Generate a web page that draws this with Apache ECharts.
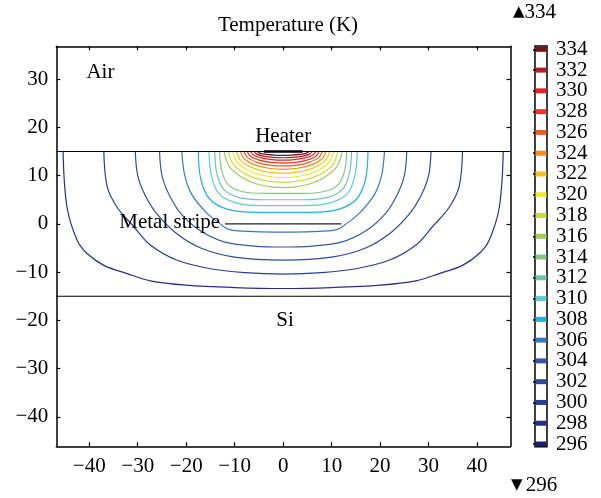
<!DOCTYPE html>
<html>
<head>
<meta charset="utf-8">
<script src="https://cdn.jsdelivr.net/npm/echarts@6/dist/echarts.min.js"></script>
<style>
html,body{margin:0;padding:0;background:#fff;}
#chart{width:601px;height:498px;}
</style>
</head>
<body>
<div id="chart"></div>
<script>
// ---- data ----
const xTicks = [-40, -30, -20, -10, 0, 10, 20, 30, 40];
const yTicks = [-40, -30, -20, -10, 0, 10, 20, 30];
const colorbarLevels = [296,298,300,302,304,306,308,310,312,314,316,318,320,322,324,326,328,330,332,334];
const contourLevels = [298,300,302,304,306,308,310,312,314,316,318,320,322,324,326,328,330,332,334];
const dataMax = 334;
const dataMin = 296;

const c334 = [[-5.3,15],[-4.8,14.66],[-3.41,14.39],[-1.81,14.25],[0,14.2],[1.81,14.25],[3.41,14.39],[4.8,14.66],[5.3,15]];
const c332 = [[-6,15],[-5.44,14.45],[-3.86,14.0],[-2.05,13.78],[0,13.7],[2.05,13.78],[3.86,14.0],[5.44,14.45],[6,15]];
const c330 = [[-6.7,15],[-6.07,14.24],[-4.31,13.62],[-2.29,13.31],[0,13.2],[2.29,13.31],[4.31,13.62],[6.07,14.24],[6.7,15]];
const c328 = [[-7.4,15],[-6.7,13.98],[-4.76,13.16],[-2.53,12.74],[0,12.6],[2.53,12.74],[4.76,13.16],[6.7,13.98],[7.4,15]];
const c326 = [[-8.1,15],[-7.34,13.73],[-5.21,12.7],[-2.77,12.18],[0,12.0],[2.77,12.18],[5.21,12.7],[7.34,13.73],[8.1,15]];
const c324 = [[-8.8,15],[-7.97,13.43],[-5.66,12.17],[-3.01,11.52],[0,11.3],[3.01,11.52],[5.66,12.17],[7.97,13.43],[8.8,15]];
const c322 = [[-9.6,15],[-8.7,13.1],[-6.17,11.55],[-3.28,10.77],[0,10.5],[3.28,10.77],[6.17,11.55],[8.7,13.1],[9.6,15]];
const c320 = [[-10.4,15],[-9.42,12.72],[-6.69,10.86],[-3.56,9.92],[0,9.6],[3.56,9.92],[6.69,10.86],[9.42,12.72],[10.4,15]];
const c318 = [[-11.3,15],[-10.24,12.29],[-7.27,10.1],[-3.86,8.98],[0,8.6],[3.86,8.98],[7.27,10.1],[10.24,12.29],[11.3,15]];
const c316 = [[-12.2,15],[-11.05,11.83],[-7.84,9.26],[-4.17,7.95],[0,7.5],[4.17,7.95],[7.84,9.26],[11.05,11.83],[12.2,15]];
const c314 = [[-13.1,15],[-12.7,11.1],[-11.4,8.2],[-8.5,6.7],[-3.9,6.3],[0,6.3],[3.9,6.3],[8.5,6.7],[11.4,8.2],[12.7,11.1],[13.1,15]];
const c312 = [[-14.1,15],[-13.7,10.5],[-12.3,7.2],[-9.2,5.5],[-4.2,5.0],[0,5.0],[4.2,5.0],[9.2,5.5],[12.3,7.2],[13.7,10.5],[14.1,15]];
const c310 = [[-15.3,15],[-14.8,10],[-13.3,6.3],[-9.9,4.4],[-4.6,3.8],[0,3.8],[4.6,3.8],[9.9,4.4],[13.3,6.3],[14.8,10],[15.3,15]];
const c308 = [[-17.5,15],[-17,9.3],[-15.2,5.2],[-11.4,3.0],[-5.3,2.4],[0,2.4],[5.3,2.4],[11.4,3.0],[15.2,5.2],[17,9.3],[17.5,15]];
const c306 = [[-20.9,15],[-20.3,10],[-18.8,6],[-16,2.5],[-13,0],[-11,-1.2],[-6,-1.6],[0,-1.7],[6,-1.6],[11,-1.2],[13,0],[16,2.5],[18.8,6],[20.3,10],[20.9,15]];
const c304 = [[-25.5,15],[-25,10],[-23.5,6],[-21,2],[-17,-1.5],[-12,-3.8],[-6,-4.6],[0,-4.8],[6,-4.6],[12,-3.8],[17,-1.5],[21,2],[23.5,6],[25,10],[25.5,15]];
const c302 = [[-30.5,15],[-30,10],[-28.5,6],[-26,2],[-22,-2],[-17,-5],[-10,-6.9],[0,-7.5],[10,-6.9],[17,-5],[22,-2],[26,2],[28.5,6],[30,10],[30.5,15]];
const c300 = [[-37,15],[-36.3,7.7],[-34.3,3.5],[-30.8,-0.6],[-27.4,-4.4],[-22,-7.5],[-15,-9.3],[-8,-10.1],[0,-10.4],[8,-10.1],[15,-9.3],[22,-7.5],[27.4,-4.4],[30.8,-0.6],[34.3,3.5],[36.3,7.7],[37,15]];
const c298 = [[-45.4,15],[-44.6,3.5],[-42.5,-3.4],[-40.5,-6.1],[-37,-8.6],[-32.2,-10.3],[-27.4,-11.8],[-20,-12.7],[-10,-13.2],[0,-13.4],[10,-13.2],[20,-12.7],[27.4,-11.8],[32.2,-10.3],[37,-8.6],[40.5,-6.1],[42.5,-3.4],[44.6,3.5],[45.4,15]];

const contourPaths = {298:c298,300:c300,302:c302,304:c304,306:c306,308:c308,310:c310,312:c312,314:c314,316:c316,318:c318,320:c320,322:c322,324:c324,326:c326,328:c328,330:c330,332:c332,334:c334};

// structure lines (layer boundaries, heater, metal stripe)
const siTop = [[-46.8,15],[46.9,15]];
const siBottom = [[-46.8,-15],[46.9,-15]];
const heater = [[-4,15],[4,15]];
const metalStripe = [[-12,0],[12,0]];
const annotationNames = ['Air', 'Heater', 'Si'];
const annotationPos = [[-37.7,31.4],[0,18.1],[0.4,-20.1]];
const stripeLabelName = 'Metal stripe';
const stripeLabelPos = [-13.0,0.3];

// ---- styles ----
const levelColors = {
  296:'#1f1f6e',298:'#272f8c',300:'#2c3d97',302:'#30489f',304:'#3457a8',306:'#3a79c1',
  308:'#27aee5',310:'#5fcad8',312:'#6fc6ab',314:'#80c882',316:'#9fcc5b',318:'#c9dc45',
  320:'#f1e82f',322:'#f5c21f',324:'#f28c1f',326:'#ee5e24',328:'#e63a2a',330:'#df2626',
  332:'#b21f24',334:'#7a1313'
};
const FONT = '"Liberation Serif","DejaVu Serif",serif';
const FS = 21;
const XMIN=-46.8, XMAX=46.9, YMIN=-46.1, YMAX=36.8;
const CBMIN=295.74, CBMAX=334.32;
const minus = v => String(v).replace('-', '\u2212');

const series = [];
contourLevels.forEach(l => {
  series.push({
    type:'line', xAxisIndex:0, yAxisIndex:0, data:contourPaths[l],
    smooth:0.35, showSymbol:false, symbol:'none', silent:true,
    lineStyle:{color:levelColors[l], width:1.2}, z:3
  });
});
[siTop, siBottom].forEach(d => series.push({
  type:'line', xAxisIndex:0, yAxisIndex:0, data:d, symbol:'none', silent:true,
  lineStyle:{color:'#000', width:1.1}, z:4
}));
series.push({type:'line', xAxisIndex:0, yAxisIndex:0, data:heater, symbol:'none', silent:true,
  lineStyle:{color:'#000', width:2.6}, z:5});
series.push({type:'line', xAxisIndex:0, yAxisIndex:0, data:metalStripe, symbol:'none', silent:true,
  lineStyle:{color:'#222', width:1.4}, z:5});
// colorbar swatches
series.push({type:'scatter', xAxisIndex:2, yAxisIndex:2, symbol:'rect', symbolSize:[11,5], silent:true,
  itemStyle:{opacity:1},
  data: colorbarLevels.map(l => ({value:[0.5,l], itemStyle:{color:levelColors[l], opacity:1}})), z:3});

const axisCommon = {
  axisLine:{show:true, onZero:false, lineStyle:{color:'#000', width:1.5}},
  axisTick:{show:true, inside:true, length:4, lineStyle:{color:'#000', width:1.2}},
  splitLine:{show:false}
};

const chart = echarts.init(document.getElementById('chart'), null, {renderer:'canvas'});
chart.setOption({
  animation:false,
  backgroundColor:'#fff',
  title:{text:'Temperature (K)', left:283, top:10, textAlign:'center',
    textStyle:{fontFamily:FONT, fontSize:FS, fontWeight:'normal', color:'#000'}},
  grid:[
    {left:56.3, top:46.3, width:454.2, height:400},
    {left:535, top:46, width:12, height:400.7, show:true, borderColor:'#000', borderWidth:1.5, backgroundColor:'#fff'}
  ],
  xAxis:[
    Object.assign({type:'value', gridIndex:0, position:'bottom', min:XMIN, max:XMAX,
      axisLabel:{show:true, customValues:xTicks, formatter:minus, margin:10, fontFamily:FONT, fontSize:FS, color:'#000'}},
      axisCommon, {axisTick:Object.assign({}, axisCommon.axisTick, {customValues:xTicks})}),
    Object.assign({type:'value', gridIndex:0, position:'top', min:XMIN, max:XMAX,
      axisLabel:{show:false}}, axisCommon, {axisTick:Object.assign({}, axisCommon.axisTick, {customValues:xTicks})}),
    {type:'value', gridIndex:1, min:0, max:1, show:false}
  ],
  yAxis:[
    Object.assign({type:'value', gridIndex:0, position:'left', min:YMIN, max:YMAX,
      axisLabel:{show:true, customValues:yTicks, formatter:minus, margin:8, fontFamily:FONT, fontSize:FS, color:'#000'}},
      axisCommon, {axisTick:Object.assign({}, axisCommon.axisTick, {customValues:yTicks})}),
    Object.assign({type:'value', gridIndex:0, position:'right', min:YMIN, max:YMAX,
      axisLabel:{show:false}}, axisCommon, {axisTick:Object.assign({}, axisCommon.axisTick, {customValues:yTicks})}),
    {type:'value', gridIndex:1, position:'right', min:CBMIN, max:CBMAX,
      axisLine:{show:false}, splitLine:{show:false}, axisLabel:{show:false},
      axisTick:{show:true, inside:true, length:2, customValues:colorbarLevels, lineStyle:{color:'#000', width:1.5}}},
    {type:'value', gridIndex:1, position:'left', min:CBMIN, max:CBMAX,
      axisLine:{show:false}, splitLine:{show:false}, axisLabel:{show:false},
      axisTick:{show:true, inside:true, length:2, customValues:colorbarLevels, lineStyle:{color:'#000', width:1.5}}}
  ],
  series: series
});

// text placed through the chart's own scales
const txt = (name, pos, align) => {
  const p = chart.convertToPixel({xAxisIndex:0, yAxisIndex:0}, pos);
  return {type:'text', x:p[0], y:p[1], z:10,
    style:{text:name, font:FS+'px '+FONT, fill:'#000', align:align, verticalAlign:'middle'}};
};
const graphics = annotationNames.map((n,i) => txt(n, annotationPos[i], 'center'));
graphics.push(txt(stripeLabelName, stripeLabelPos, 'right'));
colorbarLevels.forEach(l => {
  const p = chart.convertToPixel({xAxisIndex:2, yAxisIndex:2}, [1, l]);
  graphics.push({type:'text', x:p[0] + 9, y:p[1], z:10,
    style:{text:String(l), font:FS+'px '+FONT, fill:'#000', align:'left', verticalAlign:'middle'}});
});
const tri = {t:{fontSize:15, fontFamily:'DejaVu Sans', fill:'#000'}, n:{fontSize:FS, fontFamily:FONT, fill:'#000'}};
graphics.push({type:'text', left:513, top:2, style:{text:'{t|\u25B2}{n|'+dataMax+'}', rich:tri}});
graphics.push({type:'text', left:511, top:475, style:{text:'{t|\u25BC} {n|'+dataMin+'}', rich:tri}});
chart.setOption({graphic: graphics});
</script>
</body>
</html>
